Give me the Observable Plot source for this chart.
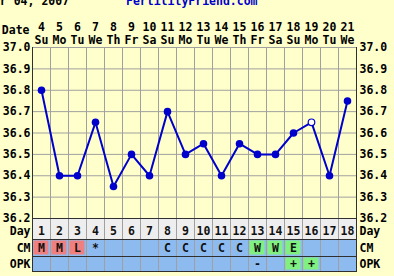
<!DOCTYPE html>
<html><head><meta charset="utf-8">
<script src="https://cdn.jsdelivr.net/npm/d3@7"></script>
<script src="https://cdn.jsdelivr.net/npm/@observablehq/plot@0.6"></script>
<style>
html,body{margin:0;padding:0;background:#FFFFCC;}
#chart{position:relative;width:394px;height:276px;overflow:hidden;background:#FFFFCC;font-family:"DejaVu Sans Mono",monospace;font-weight:bold;font-size:11.5px;}
#chart svg{position:absolute;left:0;}
.t{position:absolute;white-space:pre;line-height:12px;top:-5px;}
</style></head><body><div id="chart"></div>
<script>
const days = [1,2,3,4,5,6,7,8,9,10,11,12,13,14,15,16,17,18];
const dates = [4,5,6,7,8,9,10,11,12,13,14,15,16,17,18,19,20,21];
const weekdays = ["Su","Mo","Tu","We","Th","Fr","Sa","Su","Mo","Tu","We","Th","Fr","Sa","Su","Mo","Tu","We"];
const temps = [36.8,36.4,36.4,36.65,36.35,36.5,36.4,36.7,36.5,36.55,36.4,36.55,36.5,36.5,36.6,36.65,36.4,36.75];
const openCircleDays = [16];
const cmCodes = ["M","M","L","*","","","","C","C","C","C","C","W","W","E","","",""];
const opkCodes = ["","","","","","","","","","","","","-","","+","+","",""];
const yTicks = [36.2,36.3,36.4,36.5,36.6,36.7,36.8,36.9,37.0];
const rowNames = ["Day","CM","OPK"];
const titleText = "Mar 04, 2007";
const siteText = "FertilityFriend.com";

// styles
const blue = "#0000CC";
const gridGray = "#A0A0A0";
const border = "#303030";
const rowFill = {Day:"#EEEEEE", CM:"#8DBBEF", OPK:"#8DBBEF"};
const codeFill = {M:"#F08080", L:"#F08080", W:"#80F080", E:"#80F080", "+":"#80F080"};
const font = {background:"transparent", overflow:"visible", fontFamily:"'DejaVu Sans Mono', monospace", fontSize:"11.5px", color:"#000"};

const rows = days.map((d,i)=>({day:d, date:dates[i], wd:weekdays[i], temp:temps[i], open:openCircleDays.includes(d)}));
const edges = [days[0]-0.5, ...days.map(d=>d+0.5)];
const xDomain = [edges[0], edges[edges.length-1]];

const chart = document.getElementById("chart");

const tempPlot = Plot.plot({
  width:394, height:218, marginTop:47, marginBottom:0, marginLeft:32, marginRight:38,
  x:{domain:xDomain, axis:null}, y:{domain:[yTicks[0], yTicks[yTicks.length-1]], axis:null},
  style:font,
  marks:[
    Plot.ruleY(yTicks, {stroke:gridGray}),
    Plot.ruleX(edges, {stroke:gridGray}),
    Plot.ruleX(xDomain, {stroke:border}),
    Plot.axisY(yTicks, {anchor:"left", tickSize:0, tickPadding:2, tickFormat:d=>d.toFixed(1), fontWeight:"bold", label:null}),
    Plot.axisY(yTicks, {anchor:"right", tickSize:0, tickPadding:3, tickFormat:d=>d.toFixed(1), fontWeight:"bold", label:null}),
    Plot.axisX(days, {anchor:"top", tickSize:0, tickPadding:4, lineHeight:1.13, fontWeight:"bold", label:null,
      tickFormat:d=>{const i=days.indexOf(d); return `${dates[i]}\n${weekdays[i]}`;}}),
    Plot.text(["Date"], {frameAnchor:"top-left", text:d=>d, textAnchor:"end", lineAnchor:"middle", dx:-3, dy:-17, fontWeight:"bold"}),
    Plot.line(rows, {x:"day", y:"temp", stroke:blue, strokeWidth:2}),
    Plot.dot(rows.filter(r=>!r.open), {x:"day", y:"temp", r:3.8, fill:blue}),
    Plot.dot(rows.filter(r=>r.open), {x:"day", y:"temp", r:3.3, fill:"white", stroke:blue, strokeWidth:1.2})
  ]
});
tempPlot.style.top = "0px";
chart.appendChild(tempPlot);

function rowPlot(name, labels, height, topPx, dy) {
  const cells = days.map((d,i)=>({day:d, label:labels[i]}));
  const p = Plot.plot({
    width:394, height, marginTop:0, marginBottom:0, marginLeft:32, marginRight:38,
    x:{domain:xDomain, axis:null},
    style:font,
    marks:[
      Plot.rect(cells, {x1:d=>d.day-0.5, x2:d=>d.day+0.5, fill:rowFill[name]}),
      Plot.rect(cells.filter(c=>codeFill[c.label]), {x1:d=>d.day-0.5, x2:d=>d.day+0.5, fill:d=>codeFill[d.label], inset:1.5}),
      Plot.ruleX(edges, {stroke:gridGray}),
      Plot.frame({stroke:border}),
      Plot.text(cells, {x:"day", text:"label", frameAnchor:"middle", dy, fontWeight:"bold", fill:"#111"}),
      Plot.text([name], {frameAnchor:"left", text:d=>d, textAnchor:"end", dx:-2, dy, fontWeight:"bold"}),
      Plot.text([name], {frameAnchor:"right", text:d=>d, textAnchor:"start", dx:3, dy, fontWeight:"bold"})
    ]
  });
  p.style.top = topPx + "px";
  chart.appendChild(p);
}
rowPlot(rowNames[0], days.map(String), 21, 218, 2);
rowPlot(rowNames[1], cmCodes, 17, 239, 0);
rowPlot(rowNames[2], opkCodes, 15, 256, 0);

const t1 = document.createElement("div");
t1.className = "t"; t1.style.left = "-14px"; t1.style.color = "#000"; t1.textContent = titleText;
const t2 = document.createElement("div");
t2.className = "t"; t2.style.left = "126px"; t2.style.color = blue; t2.textContent = siteText;
chart.appendChild(t1); chart.appendChild(t2);
</script></body></html>
